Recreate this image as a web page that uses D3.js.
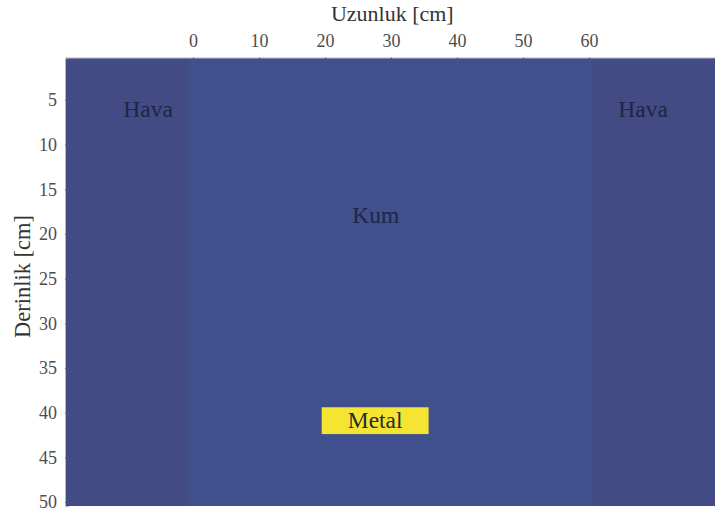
<!DOCTYPE html>
<html>
<head>
<meta charset="utf-8">
<script src="https://cdn.jsdelivr.net/npm/d3@7"></script>
<style>
  html, body { margin: 0; padding: 0; background: #fff; }
  svg { display: block; }
</style>
</head>
<body>
<svg id="chart" width="715" height="515"></svg>
<script>
// Model regions (cm): horizontal extent and depth extent of each material
const regionNames = ["Hava", "Kum", "Hava"];
const regionX0 = [-19.4, -0.8, 60.6];
const regionX1 = [-0.8, 60.6, 79.1];
const regionColors = ["#434b84", "#3f508d", "#434b84"];
// Label anchor (baseline) positions in cm
const regionLabelX = [-6.8, 27.7, 68.2];
const regionLabelY = [6.9, 18.8, 6.9];

// Buried metal target (cm)
const metalX = [19.5, 35.7];
const metalY = [39.4, 42.4];
const metalLabel = "Metal";

// Axis ticks
const xTicks = [0, 10, 20, 30, 40, 50, 60];
const yTicks = [5, 10, 15, 20, 25, 30, 35, 40, 45, 50];
const xDomain = [-19.4, 79.1];
const yDomain = [0.25, 50.45];

// Pick the first installed serif face
function pickFont(cands) {
  const ctx = document.createElement("canvas").getContext("2d");
  const sample = "Hava Metal Derinlik 0123456789 mmmWWiil";
  const base = {};
  ["monospace", "sans-serif"].forEach(b => { ctx.font = `40px ${b}`; base[b] = ctx.measureText(sample).width; });
  for (const c of cands) {
    let ok = false;
    for (const b of ["monospace", "sans-serif"]) {
      ctx.font = `40px "${c}", ${b}`;
      if (Math.abs(ctx.measureText(sample).width - base[b]) > 0.5) ok = true;
    }
    if (ok) return `"${c}", serif`;
  }
  return "serif";
}
const fontFamily = pickFont(["Liberation Serif", "Tinos", "Times New Roman", "Nimbus Roman", "Noto Serif", "DejaVu Serif"]);

const svg = d3.select("#chart").attr("font-family", fontFamily);
const plot = { left: 65, top: 57.5, right: 715, bottom: 506 };

const x = d3.scaleLinear().domain(xDomain).range([plot.left, plot.right]);
const y = d3.scaleLinear().domain(yDomain).range([plot.top, plot.bottom]);

// Material regions (air drawn first across the full width, sand on top)
const regions = regionNames.map((n, i) => ({ n, i, x0: regionX0[i], x1: regionX1[i], c: regionColors[i] }));
svg.append("g").attr("shape-rendering", "crispEdges").selectAll("rect")
  .data([regions[0], regions[1]])
  .join("rect")
  .attr("x", d => x(d.x0))
  .attr("y", y(yDomain[0]))
  .attr("width", d => d.i === 0 ? x(regionX1[2]) - x(d.x0) : x(d.x1) - x(d.x0))
  .attr("height", y(yDomain[1]) - y(yDomain[0]))
  .attr("fill", d => d.c);

// Metal target
svg.append("rect")
  .attr("x", x(metalX[0]))
  .attr("y", y(metalY[0]))
  .attr("width", x(metalX[1]) - x(metalX[0]))
  .attr("height", y(metalY[1]) - y(metalY[0]))
  .attr("fill", "#f6e432");

// Region labels
const labelSize = 23.5;
svg.append("g").selectAll("text")
  .data(regions.map(d => ({ n: d.n, lx: regionLabelX[d.i], ly: regionLabelY[d.i] })))
  .join("text")
  .attr("x", d => x(d.lx))
  .attr("y", d => y(d.ly))
  .attr("text-anchor", "middle")
  .attr("font-size", labelSize)
  .attr("fill", "#1f2544")
  .text(d => d.n);

svg.append("text")
  .attr("x", x((metalX[0] + metalX[1]) / 2))
  .attr("y", y((metalY[0] + metalY[1]) / 2) + labelSize * 0.33)
  .attr("text-anchor", "middle")
  .attr("font-size", labelSize)
  .attr("fill", "#2a2a2a")
  .text(metalLabel);

// Axes
const xAxis = d3.axisTop(x).tickValues(xTicks).tickSize(-4).tickPadding(11);
const gx = svg.append("g").attr("transform", `translate(0,${plot.top})`).call(xAxis);
const yAxis = d3.axisLeft(y).tickValues(yTicks).tickSize(-4).tickPadding(8);
const gy = svg.append("g").attr("transform", `translate(${plot.left},0)`).call(yAxis);

[gx, gy].forEach(g => {
  g.attr("font-family", fontFamily);
  g.select(".domain").attr("stroke", "#b9bcc8").attr("stroke-width", 1);
  g.selectAll(".tick line").attr("stroke", "#4d5790").attr("stroke-width", 1);
  g.selectAll(".tick text")
    .attr("font-size", 18)
    .attr("fill", "#4d4d4d");
});

// Axis titles
svg.append("text")
  .attr("x", x(30.2))
  .attr("y", 21)
  .attr("text-anchor", "middle")
  .attr("font-size", 22)
  .attr("fill", "#333")
  .text("Uzunluk [cm]");

svg.append("text")
  .attr("transform", `translate(30,276.5) rotate(-90)`)
  .attr("text-anchor", "middle")
  .attr("font-size", 22.5)
  .attr("fill", "#333")
  .text("Derinlik [cm]");
</script>
</body>
</html>
